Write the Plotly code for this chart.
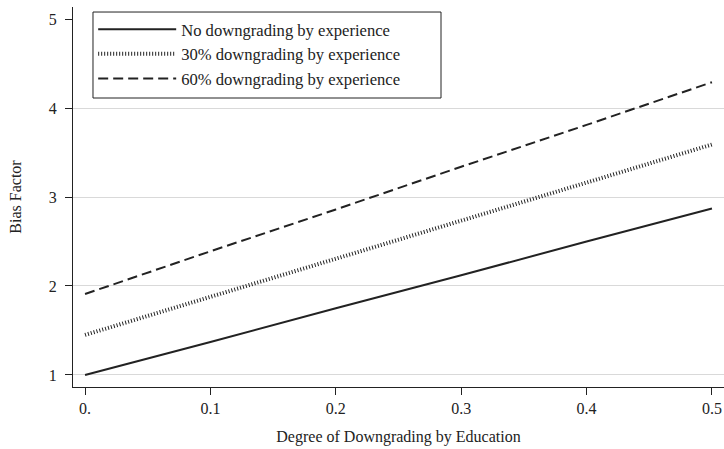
import plotly.graph_objects as go

x_vals = [0.0, 0.1, 0.2, 0.3, 0.4, 0.5]
no_downgrade = [1.00, 1.37, 1.75, 2.12, 2.50, 2.87]
downgrade_30 = [1.45, 1.88, 2.31, 2.73, 3.16, 3.59]
downgrade_60 = [1.91, 2.39, 2.86, 3.34, 3.81, 4.29]

series_names = ["No downgrading by experience",
                "30% downgrading by experience",
                "60% downgrading by experience"]

x_tickvals = [0, 0.1, 0.2, 0.3, 0.4, 0.5]
x_ticktext = ["0.", "0.1", "0.2", "0.3", "0.4", "0.5"]
y_tickvals = [1, 2, 3, 4, 5]
y_gridvals = [1, 2, 3, 4]

FONT = "Liberation Serif"
INK = "#222222"
FS = 16

fig = go.Figure()
fig.add_trace(go.Scatter(x=[None], y=[None], yaxis="y2", showlegend=False, hoverinfo="skip"))
fig.add_trace(go.Scatter(x=x_vals, y=no_downgrade, mode="lines", name=series_names[0],
                         line=dict(color=INK, width=2)))
fig.add_trace(go.Scatter(x=x_vals, y=downgrade_30, mode="lines", name=series_names[1],
                         line=dict(color=INK, width=4, dash="1px,2px")))
fig.add_trace(go.Scatter(x=x_vals, y=downgrade_60, mode="lines", name=series_names[2],
                         line=dict(color=INK, width=2, dash="10px,5px")))

yrange = [0.865, 5.135]
xrange = [-0.0096, 0.5096]

# legend frame (Stata-style wide box)
fig.add_shape(type="rect", xref="paper", yref="paper",
              x0=0.0307, x1=0.5653, y0=0.7605, y1=0.9868,
              line=dict(color=INK, width=1), fillcolor="white", layer="above")

fig.update_layout(
    width=724, height=449,
    margin=dict(l=73, r=0, t=7, b=62, autoexpand=False),
    paper_bgcolor="white", plot_bgcolor="white",
    font=dict(family=FONT, size=FS, color=INK),
    showlegend=True,
    legend=dict(x=0.031, y=0.987, xanchor="left", yanchor="top",
                bgcolor="rgba(0,0,0,0)", borderwidth=0,
                font=dict(family=FONT, size=16.6, color=INK),
                itemwidth=78, tracegroupgap=0),
    xaxis=dict(range=xrange, tickvals=x_tickvals, ticktext=x_ticktext, automargin=False,
               showgrid=False, zeroline=False, showline=True, linecolor=INK, linewidth=1,
               ticks="outside", ticklen=7, tickcolor=INK,
               tickfont=dict(family=FONT, size=FS, color=INK),
               title=dict(text="Degree of Downgrading by Education",
                          font=dict(family=FONT, size=FS, color=INK), standoff=14)),
    yaxis=dict(range=yrange, tickvals=y_tickvals, showgrid=False, zeroline=False, automargin=False,
               showline=True, linecolor=INK, linewidth=1,
               ticks="outside", ticklen=7, tickcolor=INK, ticklabelstandoff=5,
               tickfont=dict(family=FONT, size=FS, color=INK),
               title=dict(text="Bias Factor", font=dict(family=FONT, size=FS, color=INK),
                          standoff=23)),
    yaxis2=dict(range=yrange, overlaying="y", tickvals=y_gridvals, showgrid=True,
                gridcolor="#d9d9d9", gridwidth=1, showticklabels=False, zeroline=False,
                showline=False, ticks="", automargin=False),
)

fig.write_html("out.html", config={"displayModeBar": False},
               post_script="document.body.style.margin='0';document.body.style.overflow='hidden';")
